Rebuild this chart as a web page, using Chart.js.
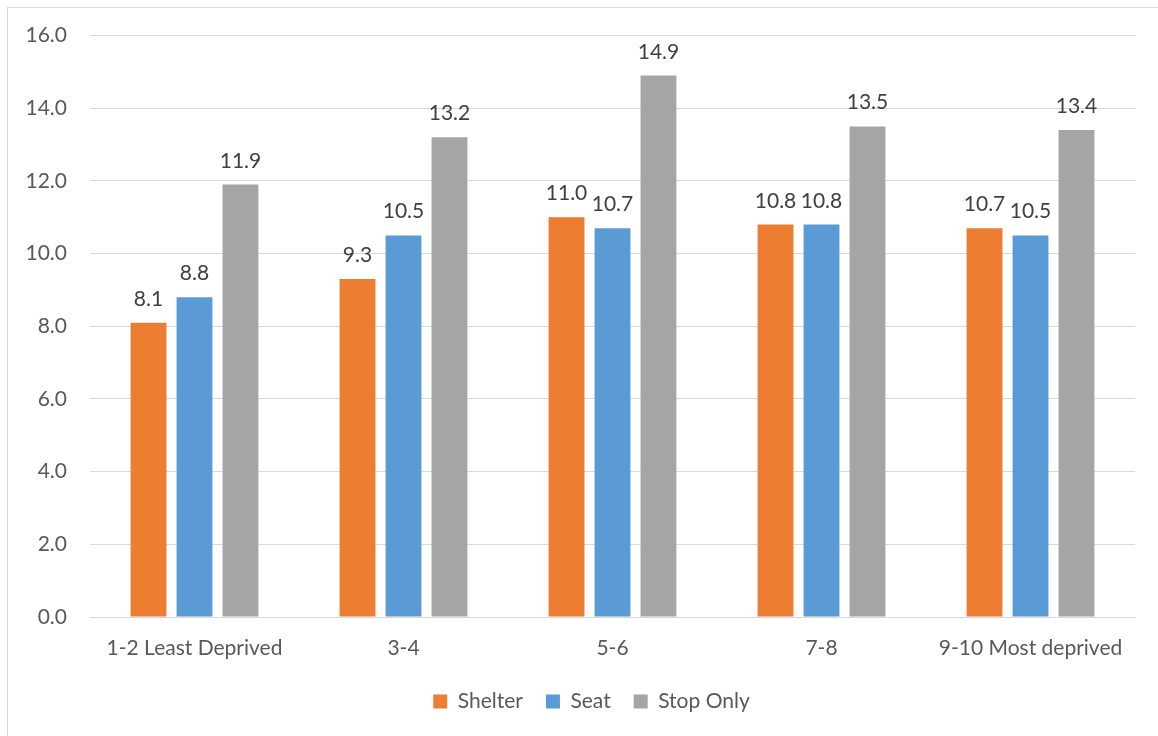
<!DOCTYPE html>
<html>
<head>
<meta charset="utf-8">
<script src="https://cdn.jsdelivr.net/npm/chart.js@4/dist/chart.umd.min.js"></script>
<style>
  html, body { margin: 0; padding: 0; background: #ffffff; overflow: hidden; }
  #wrap { position: relative; width: 1158px; height: 736px; }
  #frame { position: absolute; left: 7px; top: 7px; width: 1200px; height: 800px; border: 1px solid #d9d9d9; box-sizing: border-box; }
  canvas { position: absolute; left: 0; top: 0; }
</style>
</head>
<body>
<div id="wrap">
  <div id="frame"></div>
  <canvas id="chart" width="1158" height="736"></canvas>
</div>
<script>
// Deprivation bands and average values per stop type
const categories = ['1-2 Least Deprived', '3-4', '5-6', '7-8', '9-10 Most deprived'];
const shelter = [8.1, 9.3, 11.0, 10.8, 10.7];
const seat = [8.8, 10.5, 10.7, 10.8, 10.5];
const stopOnly = [11.9, 13.2, 14.9, 13.5, 13.4];
const yTicks = [0, 2, 4, 6, 8, 10, 12, 14, 16];

const FONT = 'Lato, "Open Sans", sans-serif';
const TEXT = '#595959';

// Value labels above each bar
const valueLabels = {
  id: 'valueLabels',
  afterDatasetsDraw(chart) {
    const ctx = chart.ctx;
    ctx.save();
    ctx.font = '21px ' + FONT;
    ctx.fillStyle = '#404040';
    ctx.textAlign = 'center';
    ctx.textBaseline = 'alphabetic';
    chart.data.datasets.forEach((ds, i) => {
      const meta = chart.getDatasetMeta(i);
      meta.data.forEach((bar, j) => {
        ctx.fillText(ds.data[j].toFixed(1), bar.x, bar.y - 17);
      });
    });
    ctx.restore();
  }
};

// Centre the legend row under the whole canvas rather than the padded box
const legendShift = {
  id: 'legendShift',
  afterLayout(chart) {
    if (chart.legend) {
      chart.legend.left += 24;
      chart.legend.right += 24;
    }
  }
};

new Chart(document.getElementById('chart'), {
  type: 'bar',
  data: {
    labels: categories,
    datasets: [
      { label: 'Shelter', data: shelter, backgroundColor: '#ED7D31' },
      { label: 'Seat', data: seat, backgroundColor: '#5B9BD5' },
      { label: 'Stop Only', data: stopOnly, backgroundColor: '#A5A5A5' }
    ]
  },
  options: {
    responsive: false,
    animation: false,
    devicePixelRatio: 1,
    layout: { padding: { left: 0, right: 23, top: 29, bottom: 14 } },
    datasets: { bar: { categoryPercentage: 0.66, barPercentage: 0.78 } },
    scales: {
      x: {
        grid: { display: false, drawTicks: false },
        border: { display: true, color: '#d9d9d9', width: 1 },
        ticks: { color: TEXT, font: { family: FONT, size: 21 }, padding: 19, maxRotation: 0 },
        afterFit(scale) { scale.height = 51; }
      },
      y: {
        min: 0, max: 16,
        afterBuildTicks(scale) { scale.ticks = yTicks.map(v => ({ value: v })); },
        grid: { color: '#d9d9d9', lineWidth: 1, drawTicks: false },
        border: { display: false },
        ticks: {
          color: TEXT, font: { family: FONT, size: 21 }, padding: 23,
          callback: v => Number(v).toFixed(1)
        },
        afterFit(scale) { scale.width = 90; }
      }
    },
    plugins: {
      legend: {
        position: 'bottom',
        labels: { color: TEXT, font: { family: FONT, size: 21 }, boxWidth: 14, boxHeight: 14, padding: 23 }
      },
      tooltip: { enabled: false }
    }
  },
  plugins: [valueLabels, legendShift]
});
</script>
</body>
</html>
